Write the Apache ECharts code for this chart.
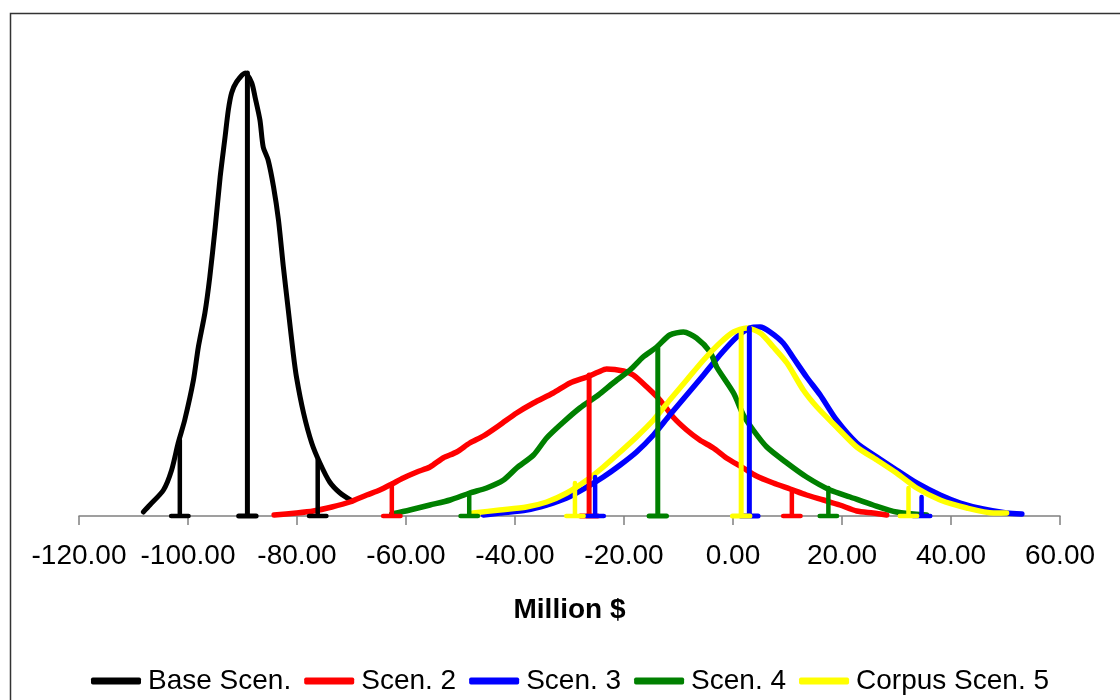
<!DOCTYPE html>
<html>
<head>
<meta charset="utf-8">
<script src="https://cdn.jsdelivr.net/npm/echarts@6/dist/echarts.min.js"></script>
<style>
html,body{margin:0;padding:0;background:#fff;}
#chart{width:1120px;height:700px;}
</style>
</head>
<body>
<div id="chart"></div>
<script>
// ---- Data (x in Million $, y = relative frequency) ----
const seriesNames = ['Base Scen.', 'Scen. 2', 'Scen. 3', 'Scen. 4', 'Corpus Scen. 5'];
const xTicks = [-120, -100, -80, -60, -40, -20, 0, 20, 40, 60];

const baseScen = [[-108.2,0.04],[-107.0,0.11],[-104.5,0.26],[-103.0,0.46],[-101.8,0.73],[-100.6,0.96],[-99.0,1.36],[-98.1,1.69],[-96.9,2.03],[-96.0,2.39],[-95.0,2.89],[-94.1,3.39],[-93.2,3.79],[-92.6,4.06],[-92.0,4.23],[-91.1,4.34],[-89.5,4.43],[-88.3,4.33],[-87.7,4.19],[-86.8,3.96],[-86.2,3.69],[-85.3,3.56],[-84.3,3.29],[-83.4,2.96],[-82.5,2.49],[-81.6,2.06],[-80.7,1.63],[-80.1,1.39],[-78.8,1.03],[-77.3,0.73],[-75.8,0.53],[-74.0,0.34],[-72.1,0.23],[-69.9,0.15]];

const scen2 = [[-84.2,0.01],[-80.1,0.03],[-77.0,0.05],[-73.6,0.09],[-70.3,0.14],[-67.2,0.21],[-64.8,0.26],[-62.6,0.32],[-60.5,0.38],[-58.0,0.44],[-55.6,0.49],[-53.2,0.58],[-50.7,0.64],[-48.3,0.73],[-45.8,0.80],[-42.8,0.91],[-39.7,1.03],[-36.6,1.13],[-33.0,1.23],[-29.9,1.33],[-26.8,1.39],[-24.7,1.44],[-23.2,1.47],[-20.1,1.45],[-18.3,1.41],[-15.8,1.29],[-13.4,1.16],[-11.0,0.99],[-8.5,0.86],[-6.1,0.76],[-3.6,0.68],[-1.2,0.58],[1.9,0.48],[4.3,0.40],[7.4,0.33],[10.5,0.27],[13.5,0.21],[16.6,0.16],[19.6,0.11],[22.7,0.05],[25.7,0.03],[28.2,0.01]];

const scen3 = [[-45.8,0.01],[-42.8,0.03],[-37.9,0.06],[-34.2,0.11],[-30.5,0.18],[-26.8,0.29],[-23.8,0.39],[-20.7,0.51],[-17.7,0.64],[-14.6,0.81],[-11.6,1.01],[-8.5,1.21],[-5.4,1.41],[-2.4,1.61],[0.7,1.79],[3.1,1.88],[5.0,1.89],[6.8,1.84],[9.2,1.73],[11.1,1.58],[13.5,1.39],[16.0,1.21],[19.0,0.96],[22.7,0.73],[26.4,0.59],[30.0,0.46],[33.7,0.33],[38.0,0.21],[41.7,0.13],[45.9,0.07],[50.2,0.03],[53.0,0.02]];

const scen4 = [[-62.6,0.02],[-59.3,0.06],[-55.6,0.11],[-51.9,0.16],[-48.3,0.23],[-45.2,0.28],[-42.1,0.36],[-39.7,0.48],[-36.6,0.61],[-34.2,0.78],[-31.1,0.94],[-28.1,1.08],[-24.7,1.21],[-22.0,1.33],[-18.9,1.46],[-16.5,1.59],[-14.0,1.69],[-11.6,1.81],[-9.1,1.84],[-6.7,1.78],[-4.2,1.64],[-3.0,1.49],[0.1,1.23],[1.9,1.01],[3.7,0.86],[6.2,0.69],[9.9,0.53],[13.5,0.39],[17.8,0.26],[21.5,0.19],[25.7,0.11],[30.0,0.04],[35.5,0.01]];

const scen5 = [[-47.7,0.03],[-42.8,0.06],[-37.9,0.09],[-34.2,0.14],[-30.5,0.23],[-26.8,0.36],[-23.8,0.49],[-20.7,0.64],[-17.7,0.79],[-14.6,0.96],[-11.6,1.16],[-8.5,1.36],[-5.4,1.56],[-2.4,1.73],[0.1,1.84],[2.5,1.88],[5.0,1.83],[7.4,1.69],[9.9,1.53],[12.9,1.26],[15.4,1.09],[19.0,0.89],[22.7,0.69],[26.4,0.56],[30.0,0.43],[33.7,0.28],[38.0,0.16],[42.9,0.08],[47.8,0.03],[50.2,0.03]];

// percentile markers (5%, mean, 95%): [x, height]
const basePct  = [[-101.5,0.76],[-89.1,4.43],[-76.2,0.56]];
const scen2Pct = [[-62.6,0.32],[-26.4,1.41],[10.8,0.26]];
const scen3Pct = [[-25.3,0.39],[3.0,1.88],[34.6,0.19]];
const scen4Pct = [[-48.4,0.23],[-13.8,1.68],[17.5,0.28]];
const scen5Pct = [[-29.0,0.33],[1.5,1.86],[32.2,0.28]];

// ---- Build chart ----
const colors = ['#000000', '#ff0000', '#0000ff', '#008000', '#ffff00'];
const curves = [baseScen, scen2, scen3, scen4, scen5];
const pcts = [basePct, scen2Pct, scen3Pct, scen4Pct, scen5Pct];
const FONT = '"Liberation Sans", Arial, sans-serif';

const series = [];
curves.forEach((d, i) => {
  series.push({
    name: seriesNames[i], type: 'line', data: d, showSymbol: false, symbol: 'none',
    smooth: 0.25, clip: false, z: 2,
    lineStyle: { color: colors[i], width: (i === 0 ? 5 : 5.5), cap: 'round', join: 'round' },
    itemStyle: { color: colors[i] }
  });
});
const capHalf = 1.6;
pcts.forEach((arr, i) => {
  arr.forEach((p, k) => {
    series.push({
      name: seriesNames[i] + ' marker ' + k, type: 'line', showSymbol: false, symbol: 'none',
      clip: false, z: 3, silent: true,
      data: [[p[0] - capHalf, 0], [p[0] + capHalf, 0], [p[0], 0], [p[0], p[1]]],
      lineStyle: { color: colors[i], width: (k === 1 ? 5 : 4.5), cap: 'round', join: 'round' }
    });
  });
});

const chart = echarts.init(document.getElementById('chart'), null, { renderer: 'canvas' });
chart.setOption({
  animation: false,
  backgroundColor: '#ffffff',
  textStyle: { fontFamily: FONT },
  graphic: [{
    type: 'rect', left: 8, top: 11, z: -10,
    shape: { x: 0, y: 0, width: 1200, height: 800 },
    style: { fill: 'none', stroke: '#333333', lineWidth: 1.5 }
  }],
  grid: { left: 79, right: 60, top: 16, bottom: 184 },
  legend: {
    data: seriesNames, left: 86, top: 662, itemWidth: 50, itemHeight: 7, itemGap: 13,
    icon: 'roundRect',
    textStyle: { fontSize: 28, color: '#000', fontFamily: FONT, padding: [0, 0, 0, 2] }
  },
  xAxis: {
    type: 'value', min: xTicks[0], max: xTicks[xTicks.length - 1], interval: 20,
    name: 'Million $', nameLocation: 'middle', nameGap: 80,
    nameTextStyle: { fontSize: 28, fontWeight: 'bold', color: '#000', fontFamily: FONT },
    axisLine: { show: true, onZero: false, lineStyle: { color: '#808080', width: 1.5 } },
    axisTick: { show: true, inside: false, length: 9, lineStyle: { color: '#808080', width: 1.5 } },
    axisLabel: { fontSize: 28, color: '#000', margin: 26, fontFamily: FONT, formatter: v => v.toFixed(2) },
    splitLine: { show: false }
  },
  yAxis: { type: 'value', min: 0, max: 5, show: false, splitLine: { show: false } },
  series: series
});
</script>
</body>
</html>
